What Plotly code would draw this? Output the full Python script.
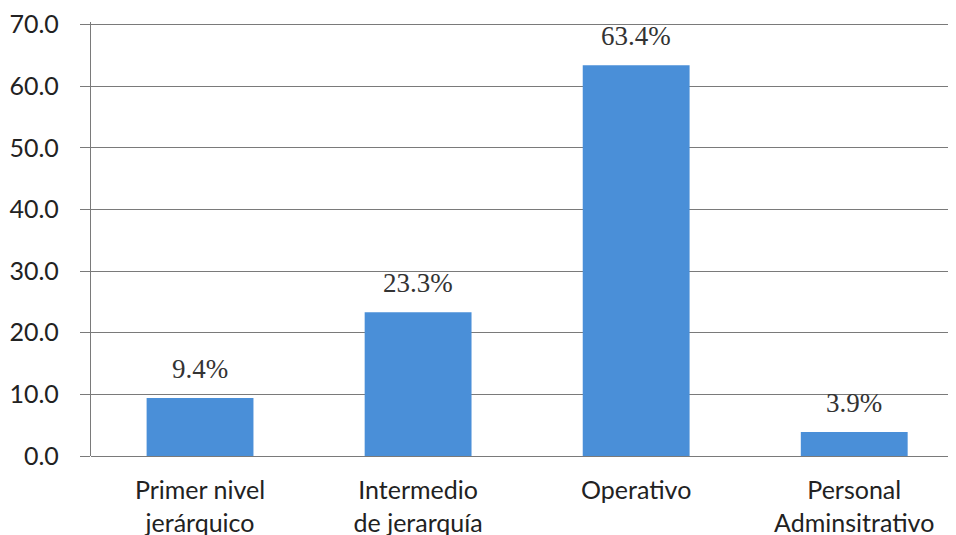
import plotly.graph_objects as go

categories = ["Primer nivel<br>jerárquico", "Intermedio<br>de jerarquía", "Operativo", "Personal<br>Adminsitrativo"]
values = [9.4, 23.3, 63.4, 3.9]
labels = ["9.4%", "23.3%", "63.4%", "3.9%"]
y_ticks = [0, 10, 20, 30, 40, 50, 60, 70]

fig = go.Figure()
fig.add_trace(go.Bar(
    x=list(range(len(categories))), y=values,
    marker=dict(color="#4a8fd8", line=dict(width=0)),
    width=0.49,
))

for i, (v, t) in enumerate(zip(values, labels)):
    fig.add_annotation(x=i, y=v, text=t, showarrow=False, yanchor="bottom", yshift=12,
                       font=dict(family="Liberation Serif", size=27, color="#333333"))

fig.update_layout(
    width=940, height=527,
    margin=dict(l=83, r=0, t=14, b=79, autoexpand=False),
    paper_bgcolor="white", plot_bgcolor="white",
    showlegend=False,
    xaxis=dict(
        tickmode="array", tickvals=list(range(len(categories))), ticktext=categories,
        range=[-0.5, 3.43], showgrid=False, zeroline=False, showline=False,
        automargin=False,
        ticks="", tickfont=dict(family="Lato", size=25, color="#222222"),
        ticklabelstandoff=17,
    ),
    yaxis=dict(
        range=[0, 70.4], tickmode="array", tickvals=y_ticks,
        ticktext=[f"{v:.1f}" for v in y_ticks],
        ticklabeloverflow="allow", automargin=False,
        showgrid=True, gridcolor="#7a7a7a", gridwidth=1.3,
        zeroline=True, zerolinecolor="#7a7a7a", zerolinewidth=1.3,
        showline=True, linecolor="#7a7a7a", linewidth=1.3,
        ticks="outside", ticklen=10, tickcolor="#7a7a7a",
        tickfont=dict(family="Lato", size=25, color="#222222"),
        ticklabelstandoff=16,
    ),
)

fig.write_html("out.html")
